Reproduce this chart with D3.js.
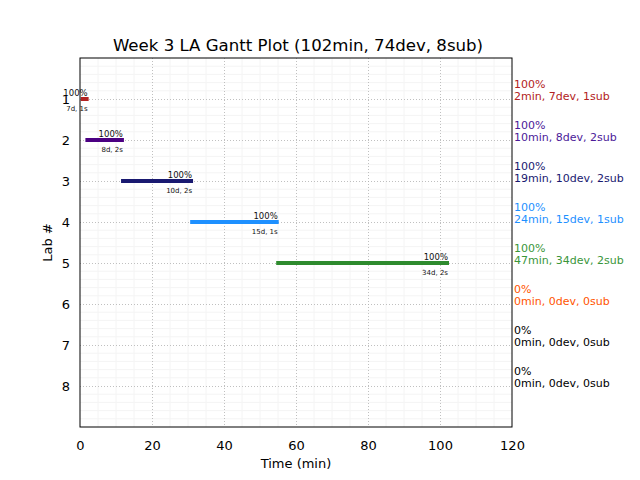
<!DOCTYPE html>
<html><head><meta charset="utf-8">
<script src="https://cdn.jsdelivr.net/npm/d3@7"></script>
<style>body{margin:0;background:#fff;} text{font-family:"DejaVu Sans",sans-serif;}</style>
</head><body><svg id="c" width="640" height="480"></svg>
<script>
const labs = [1,2,3,4,5,6,7,8];
const starts = [0.2, 1.5, 11.4, 30.6, 54.5, null, null, null];
const ends = [2.4, 12.2, 31.4, 55.2, 102.5, null, null, null];
const pct = ["100%","100%","100%","100%","100%","0%","0%","0%"];
const devSub = ["7d, 1s","8d, 2s","10d, 2s","15d, 1s","34d, 2s","","",""];
const sideLabels = ["2min, 7dev, 1sub","10min, 8dev, 2sub","19min, 10dev, 2sub","24min, 15dev, 1sub","47min, 34dev, 2sub","0min, 0dev, 0sub","0min, 0dev, 0sub","0min, 0dev, 0sub"];
const colors = ["#b22222","#4b0082","#191970","#1e90ff","#2e8b2e","#ff4500","#000000","#000000"];
const textColors = ["#b22222","#4b1a99","#191970","#1e90ff","#3a963a","#ff5500","#000000","#000000"];
const xTicks = [0,20,40,60,80,100,120];
const title = "Week 3 LA Gantt Plot (102min, 74dev, 8sub)";

const svg = d3.select("#c");
const L=80,R=512,T=58,B=427;
const x = d3.scaleLinear().domain([0,120]).range([L,R]);
const y = d3.scaleLinear().domain([0,9]).range([T,B]);

// minor grid
const g = svg.append("g");
g.selectAll(".mx").data(d3.range(5,120,5).filter(v=>v%20)).join("line")
  .attr("x1",d=>x(d)).attr("x2",d=>x(d)).attr("y1",T).attr("y2",B)
  .attr("stroke","#f4f4f4").attr("stroke-width",1);
g.selectAll(".my").data(d3.range(1,45).map(i=>i*0.2).filter(v=>Math.abs(v-Math.round(v))>0.01)).join("line")
  .attr("y1",d=>y(d)).attr("y2",d=>y(d)).attr("x1",L).attr("x2",R)
  .attr("stroke","#f4f4f4").attr("stroke-width",1);
// major grid
g.selectAll(".Mx").data(xTicks.slice(1,-1)).join("line")
  .attr("x1",d=>Math.round(x(d))+0.5).attr("x2",d=>Math.round(x(d))+0.5).attr("y1",T).attr("y2",B)
  .attr("stroke","#b0b0b0").attr("stroke-width",0.8).attr("stroke-dasharray","1,2");
g.selectAll(".My").data(labs).join("line")
  .attr("y1",d=>Math.round(y(d))+0.5).attr("y2",d=>Math.round(y(d))+0.5).attr("x1",L).attr("x2",R)
  .attr("stroke","#b0b0b0").attr("stroke-width",0.8).attr("stroke-dasharray","1,2");

// bars
labs.forEach((lab,i)=>{
  if(starts[i]===null) return;
  svg.append("line").attr("x1",x(starts[i])).attr("x2",x(ends[i]))
    .attr("y1",y(lab)).attr("y2",y(lab)).attr("stroke",colors[i]).attr("stroke-width",4);
  svg.append("text").attr("x",x(ends[i])-1).attr("y",y(lab)-3).attr("text-anchor","end")
    .attr("font-size","8.5px").attr("fill","#111").text(pct[i]);
  svg.append("text").attr("x",x(ends[i])-1).attr("y",y(lab)+12).attr("text-anchor","end")
    .attr("font-size","7px").attr("fill","#111").text(devSub[i]);
});

// frame
svg.append("rect").attr("x",L).attr("y",T).attr("width",R-L).attr("height",B-T)
  .attr("fill","none").attr("stroke","#000").attr("stroke-width",1);

// axes
const xAxis = svg.append("g").attr("transform",`translate(0,${B})`)
  .call(d3.axisBottom(x).tickValues(xTicks).tickSize(0).tickPadding(14));
xAxis.select(".domain").remove();
xAxis.selectAll("text").attr("font-size","13px").attr("font-family","DejaVu Sans").attr("fill","#000");
const yAxis = svg.append("g").attr("transform",`translate(${L},0)`)
  .call(d3.axisLeft(y).tickValues(labs).tickSize(0).tickPadding(10));
yAxis.select(".domain").remove();
yAxis.selectAll("text").attr("font-size","13px").attr("font-family","DejaVu Sans").attr("fill","#000");

// side labels
labs.forEach((lab,i)=>{
  svg.append("text").attr("x",514).attr("y",y(lab)-11).attr("font-size","11px").attr("fill",textColors[i]).text(pct[i]);
  svg.append("text").attr("x",514).attr("y",y(lab)+1).attr("font-size","11px").attr("fill",textColors[i]).text(sideLabels[i]);
});

svg.append("text").attr("x",(L+R)/2+2).attr("y",51).attr("text-anchor","middle").attr("font-size","16.6px").text(title);
svg.append("text").attr("x",(L+R)/2).attr("y",468).attr("text-anchor","middle").attr("font-size","13px").text("Time (min)");
svg.append("text").attr("transform",`translate(52,${(T+B)/2}) rotate(-90)`).attr("text-anchor","middle").attr("font-size","13px").text("Lab #");
</script></body></html>
